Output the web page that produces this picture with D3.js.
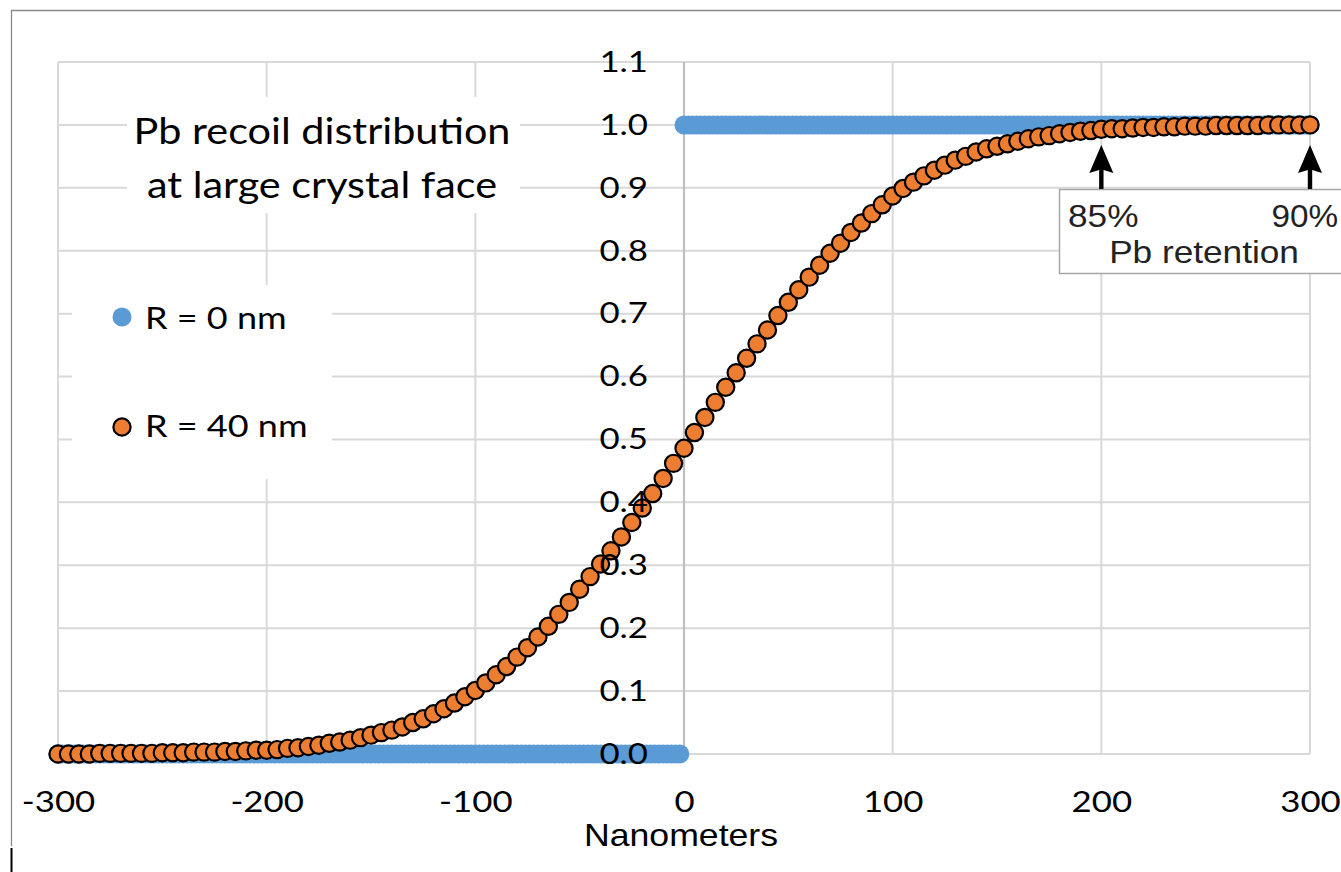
<!DOCTYPE html>
<html>
<head>
<meta charset="utf-8">
<script src="https://cdn.jsdelivr.net/npm/d3@7"></script>
<style>
html,body{margin:0;padding:0;background:#fff;}
svg{display:block;}
</style>
</head>
<body>
<svg id="chart" width="1341" height="872"></svg>
<script>
// ---------------- DATA ----------------
const xTicks = [-300, -200, -100, 0, 100, 200, 300];
const yTicks = [0.0, 0.1, 0.2, 0.3, 0.4, 0.5, 0.6, 0.7, 0.8, 0.9, 1.0, 1.1];

// R = 40 nm series (orange)
const orangeX = [
 -300,-295,-290,-285,-280,-275,-270,-265,-260,-255,
 -250,-245,-240,-235,-230,-225,-220,-215,-210,-205,
 -200,-195,-190,-185,-180,-175,-170,-165,-160,-155,
 -150,-145,-140,-135,-130,-125,-120,-115,-110,-105,
 -100,-95,-90,-85,-80,-75,-70,-65,-60,-55,
 -50,-45,-40,-35,-30,-25,-20,-15,-10,-5,
 0,5,10,15,20,25,30,35,40,45,
 50,55,60,65,70,75,80,85,90,95,
 100,105,110,115,120,125,130,135,140,145,
 150,155,160,165,170,175,180,185,190,195,
 200,205,210,215,220,225,230,235,240,245,
 250,255,260,265,270,275,280,285,290,295,
 300];
const orangeY = [
 0.000,0.000,0.000,0.000,0.001,0.001,0.001,0.001,0.001,0.001,
 0.002,0.002,0.002,0.003,0.003,0.003,0.004,0.004,0.005,0.006,
 0.006,0.007,0.009,0.010,0.012,0.014,0.017,0.019,0.022,0.026,
 0.030,0.034,0.038,0.043,0.050,0.056,0.064,0.072,0.081,0.091,
 0.101,0.113,0.126,0.139,0.154,0.169,0.186,0.203,0.222,0.241,
 0.262,0.282,0.302,0.323,0.345,0.368,0.391,0.414,0.438,0.462,
 0.486,0.511,0.535,0.559,0.583,0.606,0.629,0.652,0.674,0.697,
 0.718,0.738,0.758,0.777,0.796,0.812,0.829,0.844,0.859,0.873,
 0.887,0.899,0.909,0.919,0.928,0.936,0.944,0.950,0.957,0.962,
 0.966,0.970,0.974,0.978,0.981,0.983,0.986,0.988,0.990,0.991,
 0.993,0.994,0.994,0.995,0.996,0.996,0.997,0.997,0.998,0.998,
 0.998,0.999,0.999,0.999,0.999,0.999,1.000,1.000,1.000,1.000,
 1.000];

// R = 0 nm series (blue): a step - x positions on the 0 level and on the 1 level
const blueLowLevel = 0;
const blueHighLevel = 1;
const blueXLow = [
 -300,-298,-296,-294,-292,-290,-288,-286,-284,-282,
 -280,-278,-276,-274,-272,-270,-268,-266,-264,-262,
 -260,-258,-256,-254,-252,-250,-248,-246,-244,-242,
 -240,-238,-236,-234,-232,-230,-228,-226,-224,-222,
 -220,-218,-216,-214,-212,-210,-208,-206,-204,-202,
 -200,-198,-196,-194,-192,-190,-188,-186,-184,-182,
 -180,-178,-176,-174,-172,-170,-168,-166,-164,-162,
 -160,-158,-156,-154,-152,-150,-148,-146,-144,-142,
 -140,-138,-136,-134,-132,-130,-128,-126,-124,-122,
 -120,-118,-116,-114,-112,-110,-108,-106,-104,-102,
 -100,-98,-96,-94,-92,-90,-88,-86,-84,-82,
 -80,-78,-76,-74,-72,-70,-68,-66,-64,-62,
 -60,-58,-56,-54,-52,-50,-48,-46,-44,-42,
 -40,-38,-36,-34,-32,-30,-28,-26,-24,-22,
 -20,-18,-16,-14,-12,-10,-8,-6,-4,-2];
const blueXHigh = [
 0,2,4,6,8,10,12,14,16,18,
 20,22,24,26,28,30,32,34,36,38,
 40,42,44,46,48,50,52,54,56,58,
 60,62,64,66,68,70,72,74,76,78,
 80,82,84,86,88,90,92,94,96,98,
 100,102,104,106,108,110,112,114,116,118,
 120,122,124,126,128,130,132,134,136,138,
 140,142,144,146,148,150,152,154,156,158,
 160,162,164,166,168,170,172,174,176,178,
 180,182,184,186,188,190,192,194,196,198,
 200,202,204,206,208,210,212,214,216,218,
 220,222,224,226,228,230,232,234,236,238,
 240,242,244,246,248,250,252,254,256,258,
 260,262,264,266,268,270,272,274,276,278,
 280,282,284,286,288,290,292,294,296,298,
 300];

const titleLines = ["Pb recoil distribution", "at large crystal face"];
const legendLabels = ["R = 0 nm", "R = 40 nm"];
const retentionMarks = [200, 300];
const retentionLabels = ["85%", "90%"];
const retentionTitle = "Pb retention";
const xTitle = "Nanometers";

// ---------------- DRAW ----------------
const svg = d3.select("#chart");
const W = 1341, H = 872;
const tickFont = "Lato, 'Open Sans', sans-serif";
const arialFont = "'Liberation Sans', Arial, sans-serif";
const SX = 1.2;   // horizontal stretch of the original picture's text

svg.append("rect").attr("width", W).attr("height", H).attr("fill", "#fff");

const x = d3.scaleLinear().domain([-300, 300]).range([58, 1310]);
const y = d3.scaleLinear().domain([0, 1.1]).range([754, 62]);

// outer frame
svg.append("path")
  .attr("d", `M11.5,${H - 26} L11.5,10.5 L${W + 5},10.5`)
  .attr("fill", "none").attr("stroke", "#8a8a8a").attr("stroke-width", 1.3);
svg.append("line").attr("x1", 11.5).attr("x2", 11.5).attr("y1", 848).attr("y2", 872)
  .attr("stroke", "#000").attr("stroke-width", 2);

// gridlines
const grid = svg.append("g");
grid.selectAll("line.h").data(yTicks).join("line")
  .attr("x1", x(-300)).attr("x2", x(300))
  .attr("y1", d => y(d)).attr("y2", d => y(d))
  .attr("stroke", "#d9d9d9").attr("stroke-width", 2);
grid.selectAll("line.v").data(xTicks.filter(d => d !== 0)).join("line")
  .attr("x1", d => x(d)).attr("x2", d => x(d))
  .attr("y1", y(1.1)).attr("y2", y(0))
  .attr("stroke", "#d9d9d9").attr("stroke-width", 2);
svg.append("line").attr("x1", x(0)).attr("x2", x(0)).attr("y1", y(1.1)).attr("y2", y(0))
  .attr("stroke", "#bfbfbf").attr("stroke-width", 2.2);

// title box (white, interrupts gridlines)
svg.append("rect").attr("x", 127).attr("y", 97).attr("width", 393).attr("height", 116).attr("fill", "#fff");
svg.append("g").selectAll("text").data(titleLines).join("text")
  .attr("transform", (d, i) => `translate(322,${144 + i * 54}) scale(1.15,1)`)
  .attr("text-anchor", "middle")
  .attr("font-family", tickFont).attr("font-size", 36).attr("fill", "#000")
  .text(d => d);

// legend box
svg.append("rect").attr("x", 72).attr("y", 285).attr("width", 260).attr("height", 194).attr("fill", "#fff");
const leg = svg.append("g");
leg.append("circle").attr("cx", 122).attr("cy", 317).attr("r", 9.5).attr("fill", "#5b9bd5");
leg.append("circle").attr("cx", 122).attr("cy", 427).attr("r", 8.6).attr("fill", "#ed7d31")
  .attr("stroke", "#000").attr("stroke-width", 2.2);
leg.selectAll("text").data(legendLabels).join("text")
  .attr("transform", (d, i) => `translate(145,${329 + i * 108}) scale(${SX},1)`)
  .attr("font-family", tickFont).attr("font-size", 30).attr("fill", "#000")
  .text(d => d);

// blue series
const blue = svg.append("g");
blue.selectAll("circle.lo").data(blueXLow).join("circle")
  .attr("cx", d => x(d)).attr("cy", y(blueLowLevel)).attr("r", 9.5).attr("fill", "#5b9bd5");
blue.selectAll("circle.hi").data(blueXHigh).join("circle")
  .attr("cx", d => x(d)).attr("cy", y(blueHighLevel)).attr("r", 9.5).attr("fill", "#5b9bd5");

// orange series
const orangeData = orangeX.map((d, i) => ({x: d, y: orangeY[i]}));
svg.append("g").selectAll("circle").data(orangeData).join("circle")
  .attr("cx", d => x(d.x)).attr("cy", d => y(d.y)).attr("r", 8.6)
  .attr("fill", "#ed7d31").attr("stroke", "#000").attr("stroke-width", 2.2);

// y axis labels (on top of points)
const yAxis = d3.axisLeft(y).tickValues(yTicks).tickSize(0).tickPadding(36).tickFormat(d3.format(".1f"));
const yg = svg.append("g").attr("transform", `translate(${x(0)},0)`).call(yAxis);
yg.select(".domain").remove();
yg.selectAll("text")
  .attr("x", -36 / SX)
  .attr("transform", `scale(${SX},1)`)
  .attr("font-family", tickFont).attr("font-size", 29).attr("fill", "#000");

// x axis labels
const xAxis = d3.axisBottom(x).tickValues(xTicks).tickSize(0).tickPadding(37).tickFormat(d => String(d));
const xg = svg.append("g").attr("transform", `translate(0,${y(0)})`).call(xAxis);
xg.select(".domain").remove();
xg.selectAll("text")
  .attr("transform", `scale(${SX},1)`)
  .attr("font-family", tickFont).attr("font-size", 29).attr("fill", "#000");

svg.append("text").attr("transform", `translate(${x(0) - 3},846) scale(1.15,1)`).attr("text-anchor", "middle")
  .attr("font-family", arialFont).attr("font-size", 31).attr("fill", "#000").text(xTitle);

// retention annotation
svg.append("rect").attr("x", 1059.5).attr("y", 189.5).attr("width", 320).attr("height", 84)
  .attr("fill", "#fff").attr("stroke", "#a6a6a6").attr("stroke-width", 1.5);
const arrows = svg.append("g");
retentionMarks.forEach((m) => {
  const cx = x(m);
  arrows.append("path")
    .attr("d", `M${cx},145 L${cx + 12},173 L${cx + 2.2},170 L${cx + 2.2},189 L${cx - 2.2},189 L${cx - 2.2},170 L${cx - 12},173 Z`)
    .attr("fill", "#000");
});
const annFont = 32, annSX = 1.1;
svg.append("text").attr("transform", `translate(1068,227) scale(${annSX},1)`).attr("font-family", arialFont)
  .attr("font-size", annFont).attr("fill", "#222").text(retentionLabels[0]);
svg.append("text").attr("transform", `translate(1338,227) scale(1.04,1)`).attr("text-anchor", "end")
  .attr("font-family", arialFont).attr("font-size", annFont).attr("fill", "#222").text(retentionLabels[1]);
svg.append("text").attr("transform", `translate(1204,263) scale(${annSX},1)`).attr("text-anchor", "middle")
  .attr("font-family", arialFont).attr("font-size", annFont).attr("fill", "#222").text(retentionTitle);
</script>
</body>
</html>
